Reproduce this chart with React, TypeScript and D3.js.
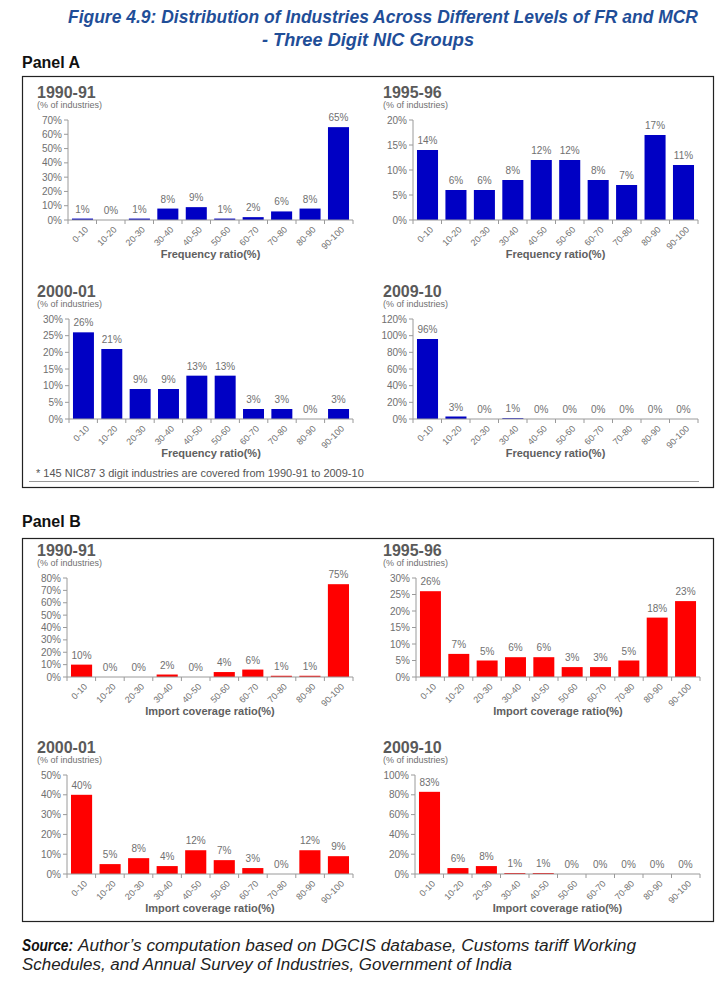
import React from 'react';
import * as d3 from 'd3';

const categories = ['0-10', '10-20', '20-30', '30-40', '40-50', '50-60', '60-70', '70-80', '80-90', '90-100'];

// Panel A: Frequency ratio
const frValues1990 = [1, 0, 1, 8, 9, 1, 2, 6, 8, 65];
const frValues1995 = [14, 6, 6, 8, 12, 12, 8, 7, 17, 11];
const frValues2000 = [26, 21, 9, 9, 13, 13, 3, 3, 0, 3];
const frValues2009 = [96, 3, 0, 1, 0, 0, 0, 0, 0, 0];

// Panel B: Import coverage ratio
const mcrValues1990 = [10, 0, 0, 2, 0, 4, 6, 1, 1, 75];
const mcrValues1995 = [26, 7, 5, 6, 6, 3, 3, 5, 18, 23];
const mcrValues2000 = [40, 5, 8, 4, 12, 7, 3, 0, 12, 9];
const mcrValues2009 = [83, 6, 8, 1, 1, 0, 0, 0, 0, 0];

const periods = ['1990-91', '1995-96', '2000-01', '2009-10'];
const yMaxA = [70, 20, 30, 120];
const yStepA = [10, 5, 5, 20];
const yMaxB = [80, 30, 50, 100];
const yStepB = [10, 5, 10, 20];

const FONT = "'Liberation Sans', Arial, sans-serif";

type ChartProps = {
  title: string;
  values: number[];
  color: string;
  max: number;
  step: number;
  left: number; // axis x
  right: number;
  top: number; // y of max tick
  bottom: number; // y of zero
  titleX: number;
  xLabel: string;
};

function BarChart(p: ChartProps) {
  const x = d3.scaleBand<string>().domain(categories).range([p.left, p.right]).paddingInner(0.26).paddingOuter(0.14);
  const y = d3.scaleLinear().domain([0, p.max]).range([p.bottom, p.top]);
  const ticks = d3.range(0, p.max + p.step / 2, p.step);
  const step = x.step();
  const boundaries = d3.range(0, categories.length + 1).map((i) => p.left + i * ((p.right - p.left) / categories.length));
  return (
    <g fontFamily={FONT}>
      <text x={p.titleX} y={p.top - 22} fontSize={16} fontWeight="bold" fill="#5a5a5a">{p.title}</text>
      <text x={p.titleX} y={p.top - 12} fontSize={9} fill="#707070">(% of industries)</text>
      {/* y axis */}
      <line x1={p.left} x2={p.left} y1={p.top} y2={p.bottom} stroke="#9a9a9a" />
      {ticks.map((t) => (
        <g key={t}>
          <line x1={p.left - 4} x2={p.left} y1={y(t)} y2={y(t)} stroke="#9a9a9a" />
          <text x={p.left - 6} y={y(t)} dy="0.35em" textAnchor="end" fontSize={10} fill="#707070">{t}%</text>
        </g>
      ))}
      {/* bars */}
      {p.values.map((v, i) => (
        <rect key={i} x={x(categories[i])!} width={x.bandwidth()} y={y(v)} height={p.bottom - y(v)} fill={p.color} />
      ))}
      {p.values.map((v, i) => (
        <text key={'l' + i} x={x(categories[i])! + x.bandwidth() / 2} y={y(v) - 6} textAnchor="middle" fontSize={10} fill="#707070">{v}%</text>
      ))}
      {/* x axis */}
      <line x1={p.left} x2={p.right} y1={p.bottom} y2={p.bottom} stroke="#9a9a9a" />
      {boundaries.map((bx, i) => (
        <line key={'t' + i} x1={bx} x2={bx} y1={p.bottom} y2={p.bottom + 4} stroke="#9a9a9a" />
      ))}
      {categories.map((c) => (
        <text key={c} transform={`translate(${x(c)! + x.bandwidth() / 2 + 4},${p.bottom + 8}) rotate(-45)`} textAnchor="end" dy="0.35em" fontSize={9} fill="#707070">{c}</text>
      ))}
      <text x={(p.left + p.right) / 2} y={p.bottom + 38} textAnchor="middle" fontSize={11} fontWeight="bold" fill="#606060">{p.xLabel}</text>
    </g>
  );
}

export default function App() {
  const blue = '#0000c4';
  const red = '#ff0000';
  const fr = [frValues1990, frValues1995, frValues2000, frValues2009];
  const mcr = [mcrValues1990, mcrValues1995, mcrValues2000, mcrValues2009];
  const posA = [
    { left: 68, right: 353, top: 120, bottom: 220, titleX: 37 },
    { left: 413, right: 698, top: 120, bottom: 220, titleX: 383 },
    { left: 69, right: 353, top: 319, bottom: 419, titleX: 37 },
    { left: 413, right: 698, top: 319, bottom: 419, titleX: 383 },
  ];
  const posB = [
    { left: 67, right: 353, top: 578, bottom: 677, titleX: 37 },
    { left: 416, right: 700, top: 578, bottom: 677, titleX: 383 },
    { left: 67, right: 353, top: 775, bottom: 874, titleX: 37 },
    { left: 415, right: 700, top: 775, bottom: 874, titleX: 383 },
  ];
  return (
    <svg width={728} height={986} style={{ position: 'absolute', left: 0, top: 0, background: '#fff' }} fontFamily={FONT}>
      <rect width={728} height={986} fill="#fff" />
      <text x={383} y={23} textAnchor="middle" fontSize={18} fontWeight="bold" fontStyle="italic" fill="#1f4e98" textLength={630} lengthAdjust="spacingAndGlyphs">Figure 4.9: Distribution of Industries Across Different Levels of FR and MCR</text>
      <text x={368} y={46} textAnchor="middle" fontSize={18} fontWeight="bold" fontStyle="italic" fill="#1f4e98" textLength={212} lengthAdjust="spacingAndGlyphs">- Three Digit NIC Groups</text>

      <text x={22} y={68} fontSize={16} fontWeight="bold" fill="#111">Panel A</text>
      <rect x={22.5} y={76.5} width={691} height={411} fill="none" stroke="#222" strokeWidth={1.2} />
      {fr.map((vals, i) => (
        <BarChart key={'a' + i} title={periods[i]} values={vals} color={blue} max={yMaxA[i]} step={yStepA[i]} xLabel="Frequency ratio(%)" {...posA[i]} />
      ))}
      <text x={36} y={477} fontSize={11} fill="#555">* 145 NIC87 3 digit industries are covered from 1990-91 to 2009-10</text>
      <line x1={29} x2={699} y1={481.5} y2={481.5} stroke="#999" />

      <text x={22} y={527} fontSize={16} fontWeight="bold" fill="#111">Panel B</text>
      <rect x={22.5} y={538.5} width={691} height={383} fill="none" stroke="#222" strokeWidth={1.2} />
      {mcr.map((vals, i) => (
        <BarChart key={'b' + i} title={periods[i]} values={vals} color={red} max={yMaxB[i]} step={yStepB[i]} xLabel="Import coverage ratio(%)" {...posB[i]} />
      ))}

      <text x={22} y={951} fontSize={16} fontWeight="bold" fontStyle="italic" fill="#111" textLength={51} lengthAdjust="spacingAndGlyphs">Source:</text>
      <text x={78} y={951} fontSize={16} fontStyle="italic" fill="#222" textLength={558} lengthAdjust="spacingAndGlyphs">Author’s computation based on DGCIS database, Customs tariff Working</text>
      <text x={22} y={970} fontSize={16} fontStyle="italic" fill="#222" textLength={490} lengthAdjust="spacingAndGlyphs">Schedules, and Annual Survey of Industries, Government of India</text>
    </svg>
  );
}
